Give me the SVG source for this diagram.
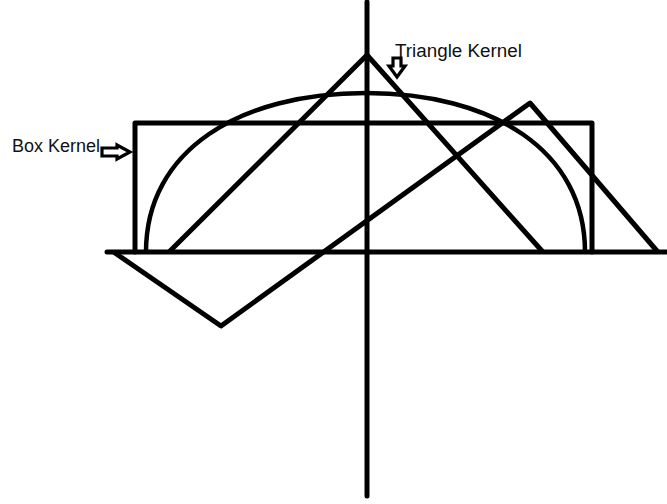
<svg xmlns="http://www.w3.org/2000/svg" width="667" height="504" viewBox="0 0 667 504">
<style>
.ln{fill:none;stroke:#000;stroke-width:5;stroke-linecap:round;stroke-linejoin:round}
.arc{fill:none;stroke:#000;stroke-width:4.5}
.lbl{font-family:"Liberation Sans","DejaVu Sans",sans-serif;font-size:18px;fill:#111}
.arr{fill:#fff;stroke:#000;stroke-width:3.2;stroke-linejoin:miter}
</style>
<rect width="667" height="504" fill="#fff"/>
<g id="connectors">
<line class="ln" x1="367" y1="2" x2="367" y2="496"/>
<line class="ln" x1="107" y1="252" x2="667" y2="252"/>
</g>
<g id="box-kernel">
<polyline class="ln" points="135,252 135,123 592,123 592,252"/>
</g>
<g id="epanechnikov">
<path class="arc" d="M146,252 C146,150 240,93 366,93 C492,93 585,150 585,252"/>
</g>
<g id="triangle-kernel">
<polyline class="ln" points="170,251 367,55 542,251"/>
</g>
<g id="shifted-triangle">
<polyline class="ln" points="115,253 221,326 530,103 657,251"/>
</g>
<g id="label-triangle">
<text class="lbl" x="395" y="57" textLength="127" lengthAdjust="spacingAndGlyphs">Triangle Kernel</text>
<polygon class="arr" points="393,58 401,58 401,66 405,66 397,77 389,66 393,66"/>
</g>
<g id="label-box">
<text class="lbl" x="12" y="152">Box Kernel</text>
<polygon class="arr" points="102,148 117,148 117,145 130,152 117,159 117,156 102,156"/>
</g>
</svg>
